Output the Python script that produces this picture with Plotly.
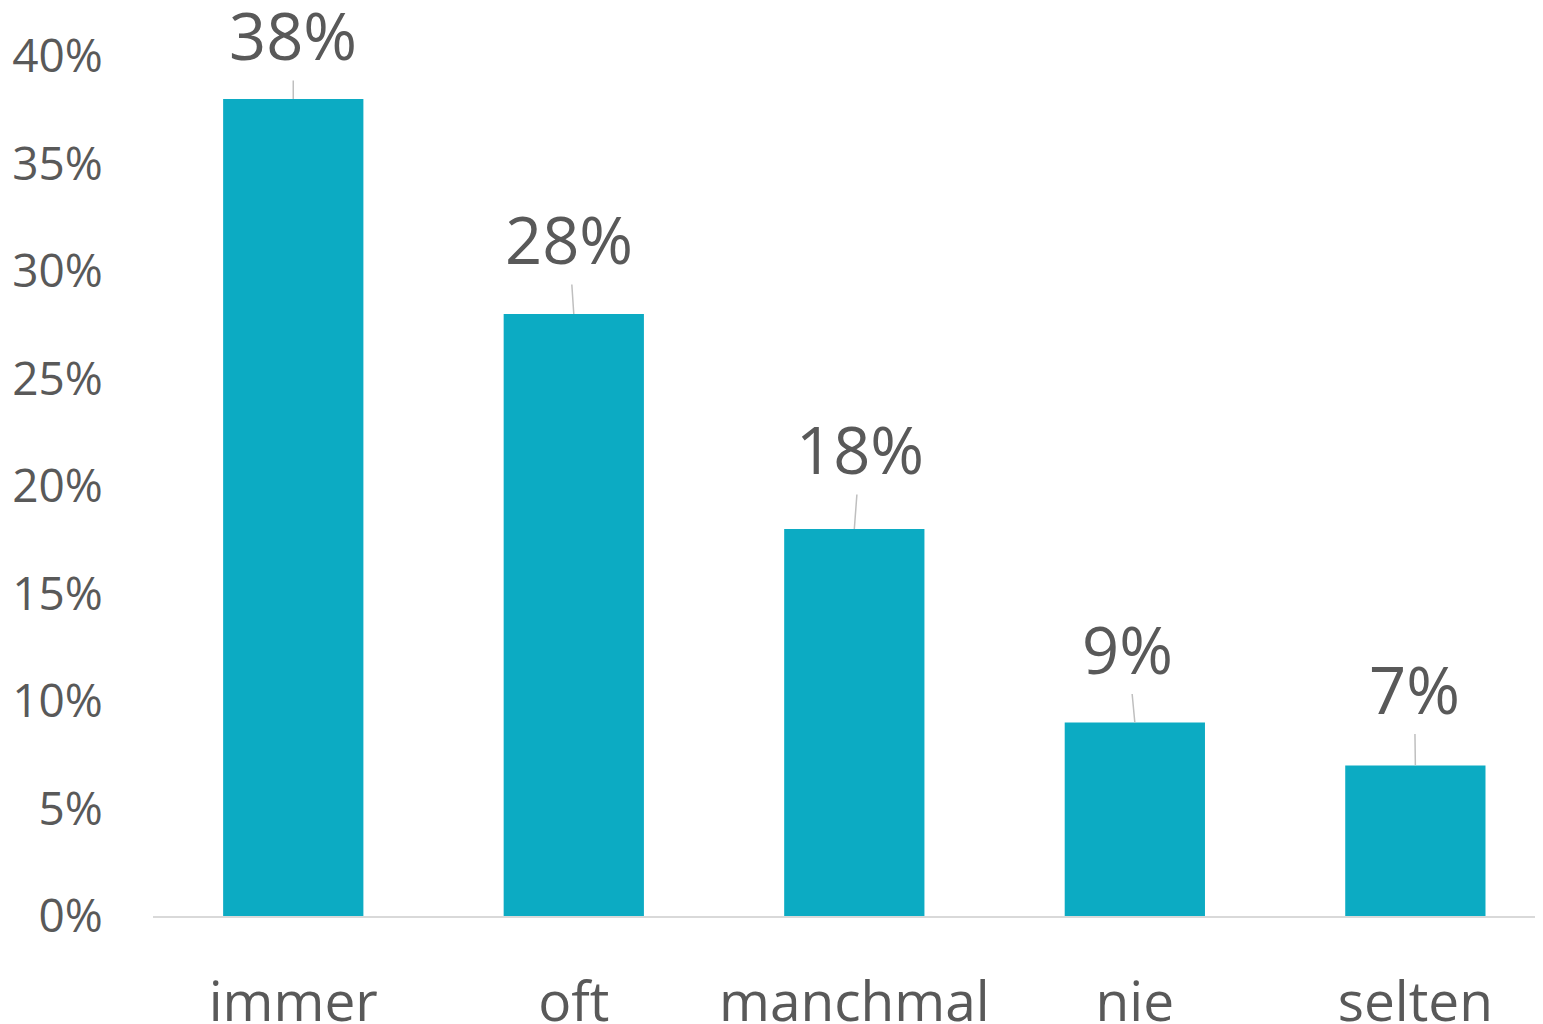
import plotly.graph_objects as go

categories = ["immer", "oft", "manchmal", "nie", "selten"]
values = [38, 28, 18, 9, 7]
y_ticks = [0, 5, 10, 15, 20, 25, 30, 35, 40]
y_tick_labels = [f"{v}%" for v in y_ticks]

# label offsets (pixels) for data labels with leader lines
label_dx = [0, -5, 6, -7, -1]
label_dy = [-64, -75, -80, -74, -77]

TEXT = "#595959"
FONT = "Open Sans"

fig = go.Figure()
fig.add_trace(go.Bar(
    x=categories, y=values,
    marker=dict(color="#0CABC3", line=dict(width=0)),
    width=0.5,
    hoverinfo="skip",
))

for c, v, dx, dy in zip(categories, values, label_dx, label_dy):
    fig.add_annotation(
        x=c, y=v, text=f"{v}%",
        showarrow=True, arrowhead=0, arrowwidth=1.5, arrowcolor="#BFBFBF",
        ax=dx, ay=dy,
        font=dict(family=FONT, size=65, color=TEXT),
    )

fig.update_layout(
    width=1535, height=1016,
    margin=dict(l=145, r=0, t=48, b=108),
    paper_bgcolor="white", plot_bgcolor="white",
    showlegend=False,
    font=dict(family=FONT, color=TEXT),
    xaxis=dict(
        range=[-0.5, 4.455], automargin=False,
        showgrid=False, zeroline=False,
        showline=True, linecolor="#D9D9D9", linewidth=2,
        ticks="outside", ticklen=37, tickcolor="rgba(0,0,0,0)",
        tickfont=dict(family=FONT, size=55, color=TEXT),
    ),
    yaxis=dict(
        range=[0, 40], automargin=False,
        tickvals=y_ticks, ticktext=y_tick_labels,
        showgrid=False, zeroline=False, showline=False,
        ticks="outside", ticklen=40, tickcolor="rgba(0,0,0,0)",
        tickfont=dict(family=FONT, size=46, color=TEXT),
    ),
)

fig.write_html("out.html")
